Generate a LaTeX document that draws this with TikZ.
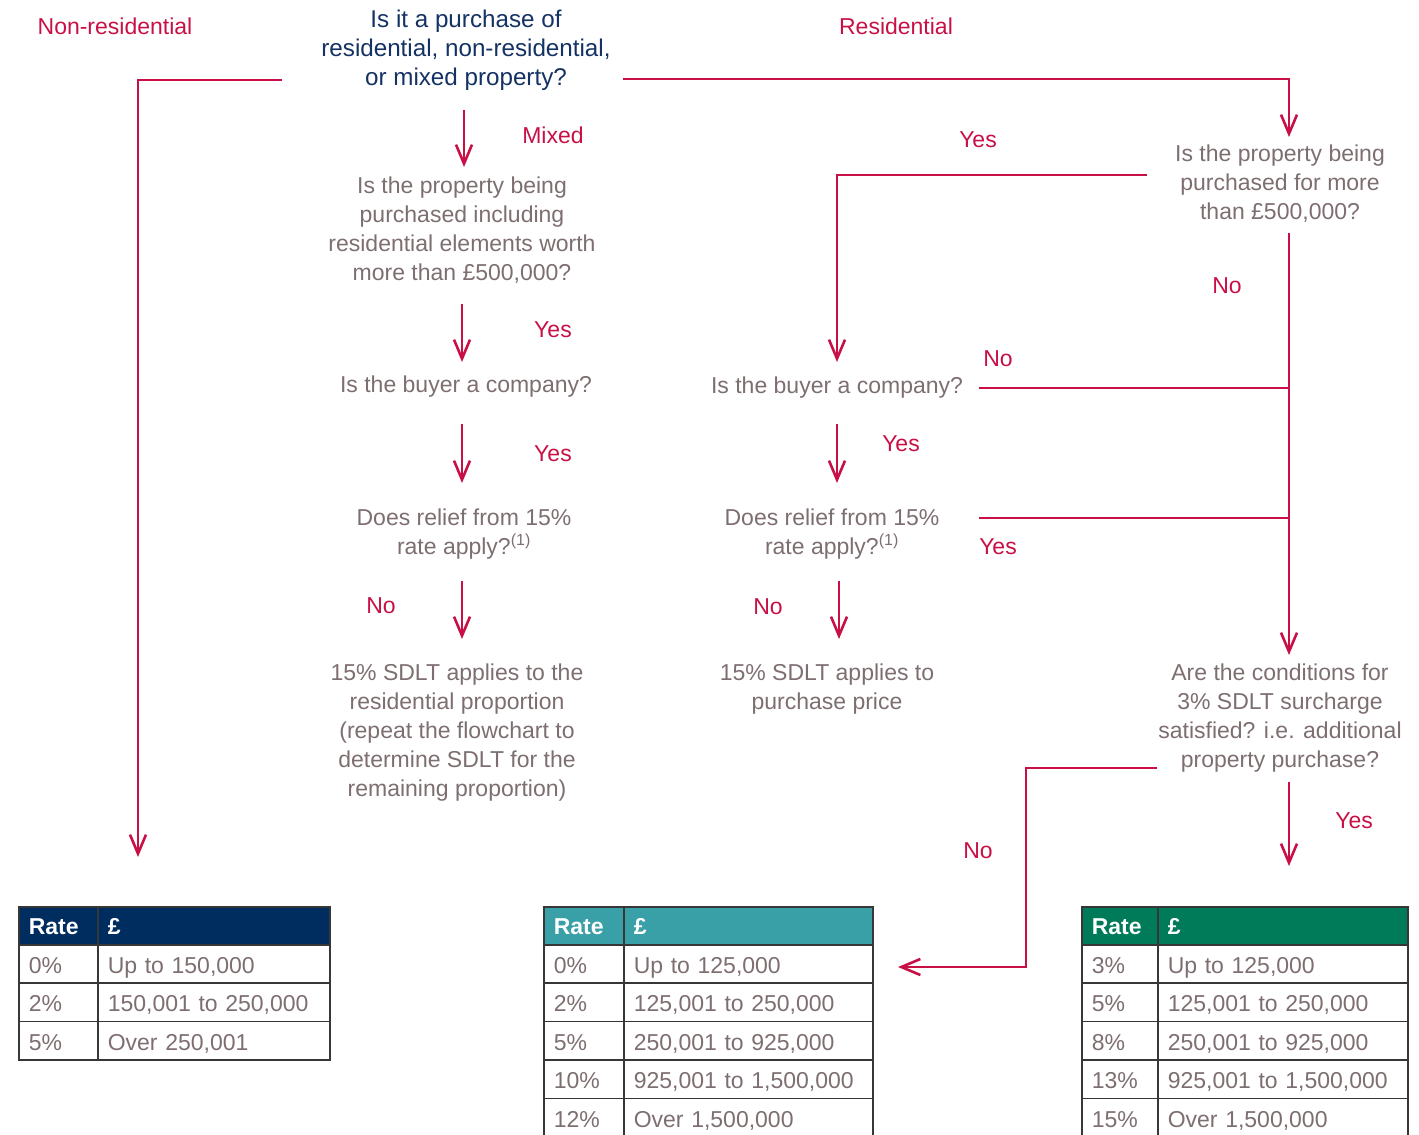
\documentclass[tikz,border=0pt]{standalone}
\usepackage{fontspec}
\setmainfont{Liberation Sans}
\usetikzlibrary{arrows.meta}
\definecolor{crim}{RGB}{200,16,70}
\definecolor{gtext}{RGB}{125,110,112}
\definecolor{qblue}{RGB}{20,50,100}
\definecolor{navyhead}{RGB}{0,45,95}
\definecolor{tealhead}{RGB}{58,160,168}
\definecolor{greenhead}{RGB}{0,123,90}
\definecolor{tline}{RGB}{55,55,55}
\newcommand\tabrow[7]{%
  \node[cell,text width=#4] (#1a) at (#2,#3) {#6};
  \node[cell,text width=#5] (#1b) at (#2+#4+20,#3) {#7};
}
\begin{document}
\begin{tikzpicture}[x=1pt,y=-1pt,
  txt/.style={text=gtext,font=\fontsize{23}{29}\selectfont,align=center,inner sep=0pt},
  q/.style={txt,text=qblue,font=\fontsize{24.2}{29}\selectfont},
  lab/.style={text=crim,font=\fontsize{23}{29}\selectfont,inner sep=0pt},
  conn/.style={draw=crim,line width=2.3pt},
  arr/.style={conn,-{Straight Barb[length=19pt,width=16pt,line width=2.6pt]}},
  cell/.style={draw=tline,line width=1.5pt,anchor=north west,minimum height=38.5pt,
    text height=22pt,text depth=2.5pt,
    inner xsep=10pt,inner ysep=0pt,align=left,text=gtext,font=\fontsize{23}{28}\selectfont},
  head/.style={cell,text=white,text height=18.5pt,text depth=2.5pt,font=\fontsize{23}{28}\selectfont\bfseries}
]
\useasboundingbox (0,0) rectangle (1419,1135);

% ---- top question
\node[q] (q0) at (466,50) {Is it a purchase of\\residential, non-residential,\\or mixed property?};
\node[lab] (lNR) at (115,26) {Non-residential};
\node[lab] (lR) at (896,26) {Residential};
\coordinate (nrS) at (282,80);
\coordinate (nrC) at (138,80);
\coordinate (nrE) at (138,857);
\draw[arr] (nrS) -- (nrC) -- (nrE);
\coordinate (rS) at (623,79);
\coordinate (rC) at (1289,79);
\coordinate (rE) at (1289,137);
\draw[arr] (rS) -- (rC) -- (rE);

% ---- mixed branch
\coordinate (m1s) at (464,110);
\coordinate (m1e) at (464,167);
\draw[arr] (m1s) -- (m1e);
\node[lab] (lMixed) at (553,135) {Mixed};
\node[txt] (mq1) at (462,230) {Is the property being\\purchased including\\residential elements worth\\more than £500,000?};
\coordinate (m2s) at (462,304);
\coordinate (m2e) at (462,362);
\draw[arr] (m2s) -- (m2e);
\node[lab] (lY1) at (553,330) {Yes};
\node[txt] (mq2) at (466,387) {Is the buyer a company?};
\coordinate (m3s) at (462,424);
\coordinate (m3e) at (462,483);
\draw[arr] (m3s) -- (m3e);
\node[lab] (lY2) at (553,454) {Yes};
\node[txt] (mq3) at (464,534) {Does relief from 15\%\\rate apply?\textsuperscript{(1)}};
\coordinate (m4s) at (462,581);
\coordinate (m4e) at (462,639);
\draw[arr] (m4s) -- (m4e);
\node[lab] (lN1) at (381,606) {No};
\node[txt] (mres) at (457,733) {15\% SDLT applies to the\\residential proportion\\(repeat the flowchart to\\determine SDLT for the\\remaining proportion)};

% ---- residential branch
\node[txt] (rq1) at (1280,184) {Is the property being\\purchased for more\\than £500,000?};
\coordinate (ryS) at (1147,175);
\coordinate (ryC) at (837,175);
\coordinate (ryE) at (837,362);
\draw[arr] (ryS) -- (ryC) -- (ryE);
\node[lab] (lY3) at (978,140) {Yes};
\coordinate (rnS) at (1289,233);
\coordinate (rnE) at (1289,655);
\draw[arr] (rnS) -- (rnE);
\node[lab] (lN2) at (1227,286) {No};
\node[txt] (rq2) at (837,388) {Is the buyer a company?};
\coordinate (cnS) at (979,388);
\coordinate (cnE) at (1289,388);
\draw[conn] (cnS) -- (cnE);
\node[lab] (lN3) at (998,359) {No};
\coordinate (r2s) at (837,424);
\coordinate (r2e) at (837,483);
\draw[arr] (r2s) -- (r2e);
\node[lab] (lY4) at (901,444) {Yes};
\node[txt] (rq3) at (832,534) {Does relief from 15\%\\rate apply?\textsuperscript{(1)}};
\coordinate (ryl) at (979,518);
\coordinate (ryr) at (1289,518);
\draw[conn] (ryl) -- (ryr);
\node[lab] (lY5) at (998,547) {Yes};
\coordinate (r3s) at (839,581);
\coordinate (r3e) at (839,639);
\draw[arr] (r3s) -- (r3e);
\node[lab] (lN4) at (768,607) {No};
\node[txt] (rres) at (827,689) {15\% SDLT applies to\\purchase price};

\node[txt] (rq4) at (1280,718) {Are the conditions for\\3\% SDLT surcharge\\satisfied? i.e. additional\\property purchase?};
\coordinate (snS) at (1157,768);
\coordinate (snC1) at (1026,768);
\coordinate (snC2) at (1026,967);
\coordinate (snE) at (898,967);
\draw[arr] (snS) -- (snC1) -- (snC2) -- (snE);
\node[lab] (lN5) at (978,851) {No};
\coordinate (syS) at (1289,782);
\coordinate (syE) at (1289,866);
\draw[arr] (syS) -- (syE);
\node[lab] (lY6) at (1354,821) {Yes};

% ---- table 1 (non-residential)
\node[head,fill=navyhead,text width=59pt] (t1ha) at (18,906) {Rate};
\node[head,fill=navyhead,text width=212pt] (t1hb) at (97,906) {£};
\tabrow{t1r1}{18}{943.5}{59pt}{212pt}{0\%}{Up to 150,000}
\tabrow{t1r2}{18}{982}{59pt}{212pt}{2\%}{150,001 to 250,000}
\tabrow{t1r3}{18}{1020.5}{59pt}{212pt}{5\%}{Over 250,001}

% ---- table 2 (residential)
\node[head,fill=tealhead,text width=60pt] (t2ha) at (543,906) {Rate};
\node[head,fill=tealhead,text width=229pt] (t2hb) at (623,906) {£};
\tabrow{t2r1}{543}{943.5}{60pt}{229pt}{0\%}{Up to 125,000}
\tabrow{t2r2}{543}{982}{60pt}{229pt}{2\%}{125,001 to 250,000}
\tabrow{t2r3}{543}{1020.5}{60pt}{229pt}{5\%}{250,001 to 925,000}
\tabrow{t2r4}{543}{1059}{60pt}{229pt}{10\%}{925,001 to 1,500,000}
\tabrow{t2r5}{543}{1097.5}{60pt}{229pt}{12\%}{Over 1,500,000}

% ---- table 3 (surcharge)
\node[head,fill=greenhead,text width=56pt] (t3ha) at (1081,906) {Rate};
\node[head,fill=greenhead,text width=230pt] (t3hb) at (1157,906) {£};
\tabrow{t3r1}{1081}{943.5}{56pt}{230pt}{3\%}{Up to 125,000}
\tabrow{t3r2}{1081}{982}{56pt}{230pt}{5\%}{125,001 to 250,000}
\tabrow{t3r3}{1081}{1020.5}{56pt}{230pt}{8\%}{250,001 to 925,000}
\tabrow{t3r4}{1081}{1059}{56pt}{230pt}{13\%}{925,001 to 1,500,000}
\tabrow{t3r5}{1081}{1097.5}{56pt}{230pt}{15\%}{Over 1,500,000}
\end{tikzpicture}
\end{document}
